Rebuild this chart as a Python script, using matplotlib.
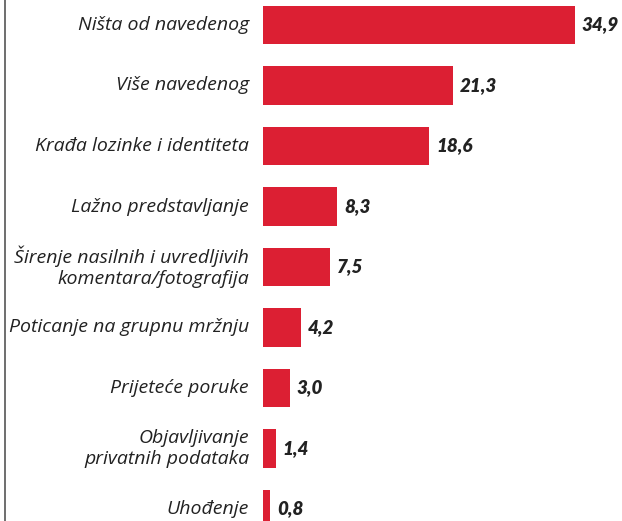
import matplotlib
matplotlib.use("Agg")
import matplotlib.pyplot as plt
from matplotlib.lines import Line2D

categories = ["Ništa od navedenog", "Više navedenog", "Krađa lozinke i identiteta",
              "Lažno predstavljanje", "Širenje nasilnih i uvredljivih\nkomentara/fotografija",
              "Poticanje na grupnu mržnju", "Prijeteće poruke",
              "Objavljivanje\nprivatnih podataka", "Uhođenje"]
values = [34.9, 21.3, 18.6, 8.3, 7.5, 4.2, 3.0, 1.4, 0.8]
value_labels = ["34,9", "21,3", "18,6", "8,3", "7,5", "4,2", "3,0", "1,4", "0,8"]

W, H = 622, 521
scale = 8.93
fig = plt.figure(figsize=(W/100, H/100), dpi=100)
ax = fig.add_axes([263/W, 0, 1-263/W, 1])
pos = list(range(len(values)))
ax.barh(pos, values, height=0.63, color="#DC1F33")
ax.set_xlim(0, (W-263)/scale)
ax.set_ylim((H-25)/60.5, -25/60.5)
ax.axis("off")

for p, v, lab, cat in zip(pos, values, value_labels, categories):
    ax.annotate(lab, (v, p), xytext=(5, 0), textcoords="offset points",
                va="center", ha="left", fontsize=13.5, fontweight="heavy",
                fontstyle="italic", family="Lato", color="#222222",
                annotation_clip=False)
    ax.annotate(cat, (0, p), xytext=(-10, 0), textcoords="offset points",
                va="center", ha="right", fontsize=14, fontstyle="italic",
                family="Open Sans", color="#222222", linespacing=1.25,
                annotation_clip=False)

fig.add_artist(Line2D([4.5/W, 4.5/W], [0, 1], transform=fig.transFigure,
                      color="#555555", linewidth=1.2))
fig.savefig("out.png", dpi=100)
